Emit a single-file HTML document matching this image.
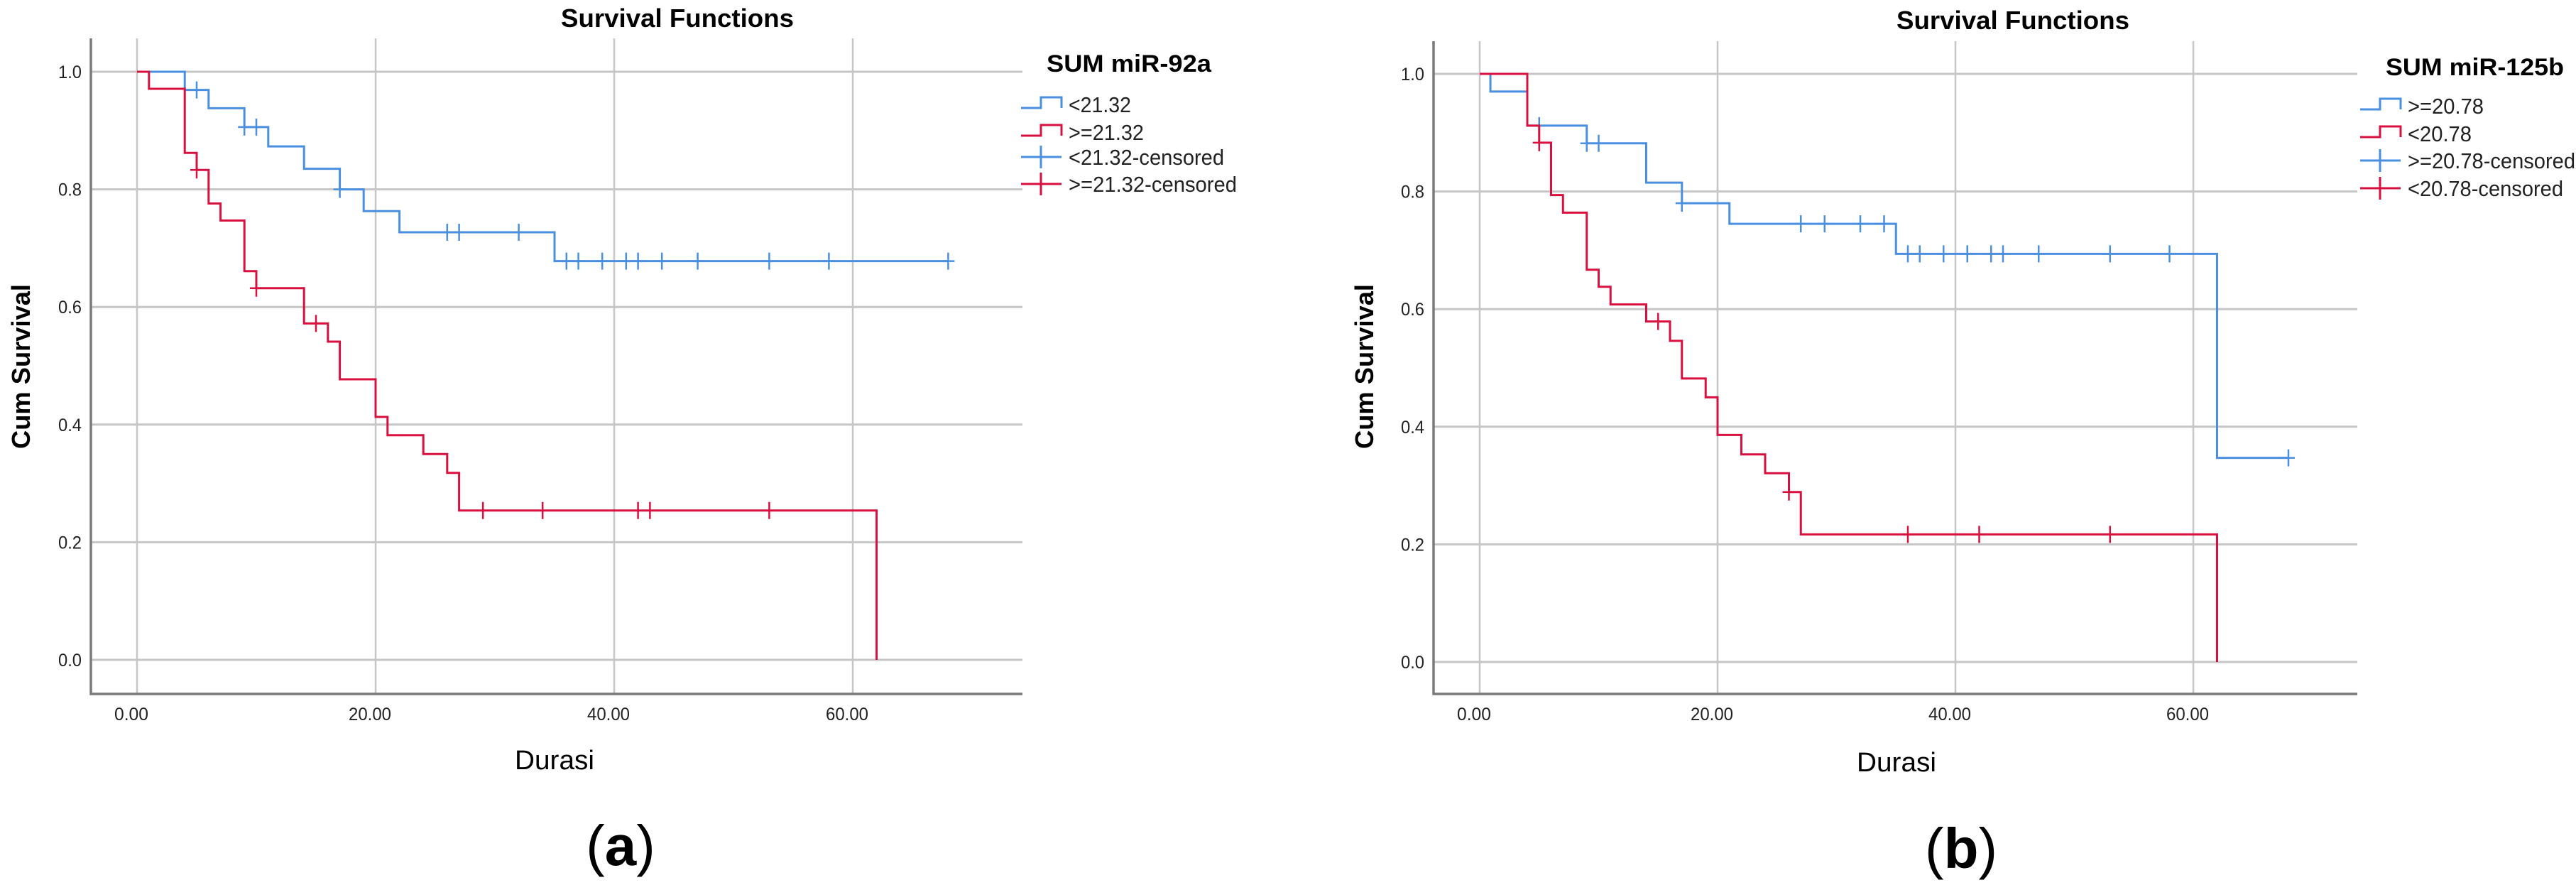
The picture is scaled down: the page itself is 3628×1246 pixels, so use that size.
<!DOCTYPE html>
<html><head><meta charset="utf-8"><style>
html,body{margin:0;padding:0;background:#fff;}
svg{display:block;}
text{font-family:"Liberation Sans",sans-serif;}
</style></head><body>
<svg id="chart" width="3628" height="1246" viewBox="0 0 3628 1246" xmlns="http://www.w3.org/2000/svg"></svg>
<script>
// ---- data: panel (a) SUM miR-92a ----
const xTicks = [0, 20, 40, 60];
const xTickLabels = ["0.00", "20.00", "40.00", "60.00"];
const yTicks = [0, 0.2, 0.4, 0.6, 0.8, 1.0];
const yTickLabels = ["0.0", "0.2", "0.4", "0.6", "0.8", "1.0"];

const aBlueTimes = [0, 4, 6, 9, 11, 14, 17, 19, 22, 35];
const aBlueSurv = [1, 0.969, 0.938, 0.906, 0.873, 0.835, 0.80, 0.763, 0.727, 0.678];
const aBlueEnd = 68;
const aBlueCens = [5, 9, 10, 17, 26, 27, 32, 36, 37, 39, 41, 42, 44, 47, 53, 58, 68];

const aRedTimes = [0, 1, 4, 5, 6, 7, 9, 10, 14, 16, 17, 20, 21, 24, 26, 27, 62];
const aRedSurv = [1, 0.971, 0.862, 0.833, 0.776, 0.747, 0.661, 0.632, 0.572, 0.541, 0.477, 0.413, 0.382, 0.35, 0.318, 0.254, 0];
const aRedEnd = 62;
const aRedCens = [5, 10, 15, 29, 34, 42, 43, 53];

// ---- data: panel (b) SUM miR-125b ----
const bBlueTimes = [0, 0.9, 4, 9, 14, 17, 21, 35, 62];
const bBlueSurv = [1, 0.970, 0.912, 0.882, 0.815, 0.78, 0.745, 0.694, 0.347];
const bBlueEnd = 68;
const bBlueCens = [5, 9, 10, 17, 27, 29, 32, 34, 36, 37, 39, 41, 43, 44, 47, 53, 58, 68];

const bRedTimes = [0, 4, 5, 6, 7, 9, 10, 11, 14, 16, 17, 19, 20, 22, 24, 26, 27, 62];
const bRedSurv = [1, 0.912, 0.883, 0.794, 0.764, 0.667, 0.638, 0.608, 0.579, 0.546, 0.482, 0.450, 0.386, 0.353, 0.321, 0.289, 0.217, 0];
const bRedEnd = 62;
const bRedCens = [5, 15, 26, 36, 42, 53];

const BLUE = "#4a8fe0", RED = "#d9103f", GRID = "#c6c6c6", AXIS = "#7a7a7a";
const NS = "http://www.w3.org/2000/svg";
const svg = document.getElementById("chart");

function mk(tag, attrs, parent, txt) {
  const e = document.createElementNS(NS, tag);
  for (const k in attrs) e.setAttribute(k, attrs[k]);
  if (txt !== undefined) e.textContent = txt;
  (parent || svg).appendChild(e);
  return e;
}
function survAt(times, surv, t) {
  let v = surv[0];
  for (let i = 0; i < times.length; i++) if (times[i] <= t + 1e-9) v = surv[i];
  return v;
}

function panel(P) {
  const g = mk("g", {});
  
  
  const X = t => P.x0 + t * P.ppu;
  const Y = v => P.y0 - v * (P.y0 - P.y1);
  // grid
  xTicks.forEach((t, i) => {
    const l = mk("line", {x1: X(t), x2: X(t), y1: P.top, y2: P.bottom, stroke: GRID, "stroke-width": 2.5}, g);
    
    
    const tx = mk("text", {x: X(t) - 8, y: P.bottom + 37, "font-size": 25, "text-anchor": "middle", textLength: xTickLabels[i].length * 12, lengthAdjust: "spacingAndGlyphs", fill: "#222"}, g, xTickLabels[i]);
    
    
  });
  yTicks.forEach((v, i) => {
    const l = mk("line", {x1: P.left, x2: P.right, y1: Y(v), y2: Y(v), stroke: GRID, "stroke-width": 3}, g);
    
    
    const tx = mk("text", {x: P.left - 13, y: Y(v) + 9, "font-size": 25, "text-anchor": "end", textLength: 33, lengthAdjust: "spacingAndGlyphs", fill: "#222"}, g, yTickLabels[i]);
    
    
  });
  // axes
  const ax = mk("path", {d: `M${P.left},${P.top} V${P.bottom} H${P.right}`, stroke: AXIS, "stroke-width": 3.5, fill: "none"}, g);
  
  
  // series
  P.series.forEach(s => {
    let d = `M${X(s.times[0])},${Y(s.surv[0])}`;
    for (let i = 1; i < s.times.length; i++) {
      d += ` H${X(s.times[i])} V${Y(s.surv[i])}`;
    }
    d += ` H${X(s.end)}`;
    const p = mk("path", {d: d, stroke: s.color, "stroke-width": 3, fill: "none"}, g);
    
    
    s.cens.forEach(t => {
      const cx = X(t), cy = Y(survAt(s.times, s.surv, t));
      const c = mk("path", {d: `M${cx - 9},${cy} H${cx + 9} M${cx},${cy - 12} V${cy + 12}`, stroke: s.color, "stroke-width": 2.5, fill: "none"}, g);
      
      
    });
  });
  // titles
  const t1 = mk("text", {x: P.titleX, y: P.titleY, "font-size": 36, "font-weight": "bold", "text-anchor": "middle", textLength: 328, lengthAdjust: "spacingAndGlyphs"}, g, "Survival Functions");
  
  
  const t2 = mk("text", {x: P.durX, y: P.durY, "font-size": 38, "text-anchor": "middle", textLength: 112, lengthAdjust: "spacingAndGlyphs"}, g, "Durasi");
  
  
  const t3 = mk("text", {x: 0, y: 0, "font-size": 36, "font-weight": "bold", "text-anchor": "middle", transform: `translate(${P.cumX},${P.cumY}) rotate(-90)`, textLength: 232, lengthAdjust: "spacingAndGlyphs"}, g, "Cum Survival");
  
  
  const t4 = mk("text", {x: P.capX, y: P.capY, "font-size": 80, "text-anchor": "middle", "font-family": "Liberation Serif, serif"}, g, "");
  
  
  mk("tspan", {}, t4, "(");
  mk("tspan", {"font-weight": "bold"}, t4, P.cap);
  mk("tspan", {}, t4, ")");
  // legend
  const lt = mk("text", {x: P.legX + 36, y: P.legTitleY, "font-size": 34, "font-weight": "bold", textLength: P.legTitleW, lengthAdjust: "spacingAndGlyphs"}, g, P.legTitle);
  
  
  P.legend.forEach((e, i) => {
    const cy = P.legY[i];
    const lx = P.legX;
    const sym = e.step
      ? `M${lx},${cy + 5} H${lx + 28} V${cy - 10} H${lx + 57} V${cy + 5}`
      : `M${lx},${cy} H${lx + 57} M${lx + 28},${cy - 16} V${cy + 16}`;
    const sp = mk("path", {d: sym, stroke: e.color, "stroke-width": 3, fill: "none"}, g);
    
    
    const tx = mk("text", {x: lx + 67, y: cy + 11, "font-size": 31, textLength: e.w, lengthAdjust: "spacingAndGlyphs", fill: "#222"}, g, e.label);
    
    
  });
}

panel({
  name: "panel-a", x0: 193, ppu: 16.8, y0: 929, y1: 101, top: 54, bottom: 977, left: 128, right: 1440,
  titleX: 954, titleY: 38, durX: 781, durY: 1083, cumX: 42, cumY: 516, capX: 874, capY: 1218, cap: "a",
  legX: 1438, legTitle: "SUM miR-92a", legTitleY: 101, legTitleW: 232, legY: [147, 186, 221, 259],
  series: [
    {name: "blue-lt-21-32", times: aBlueTimes, surv: aBlueSurv, end: aBlueEnd, cens: aBlueCens, color: BLUE},
    {name: "red-ge-21-32", times: aRedTimes, surv: aRedSurv, end: aRedEnd, cens: aRedCens, color: RED}
  ],
  legend: [
    {label: "<21.32", color: BLUE, step: true, w: 88},
    {label: ">=21.32", color: RED, step: true, w: 106},
    {label: "<21.32-censored", color: BLUE, step: false, w: 219},
    {label: ">=21.32-censored", color: RED, step: false, w: 237}
  ]
});
panel({
  name: "panel-b", x0: 2084, ppu: 16.75, y0: 932, y1: 104, top: 58, bottom: 977, left: 2019, right: 3320,
  titleX: 2835, titleY: 41, durX: 2671, durY: 1086, cumX: 1934, cumY: 516, capX: 2762, capY: 1222, cap: "b",
  legX: 3324, legTitle: "SUM miR-125b", legTitleY: 106, legTitleW: 251, legY: [149, 188, 226, 265],
  series: [
    {name: "blue-ge-20-78", times: bBlueTimes, surv: bBlueSurv, end: bBlueEnd, cens: bBlueCens, color: BLUE},
    {name: "red-lt-20-78", times: bRedTimes, surv: bRedSurv, end: bRedEnd, cens: bRedCens, color: RED}
  ],
  legend: [
    {label: ">=20.78", color: BLUE, step: true, w: 107},
    {label: "<20.78", color: RED, step: true, w: 90},
    {label: ">=20.78-censored", color: BLUE, step: false, w: 236},
    {label: "<20.78-censored", color: RED, step: false, w: 219}
  ]
});
</script>
</body></html>
